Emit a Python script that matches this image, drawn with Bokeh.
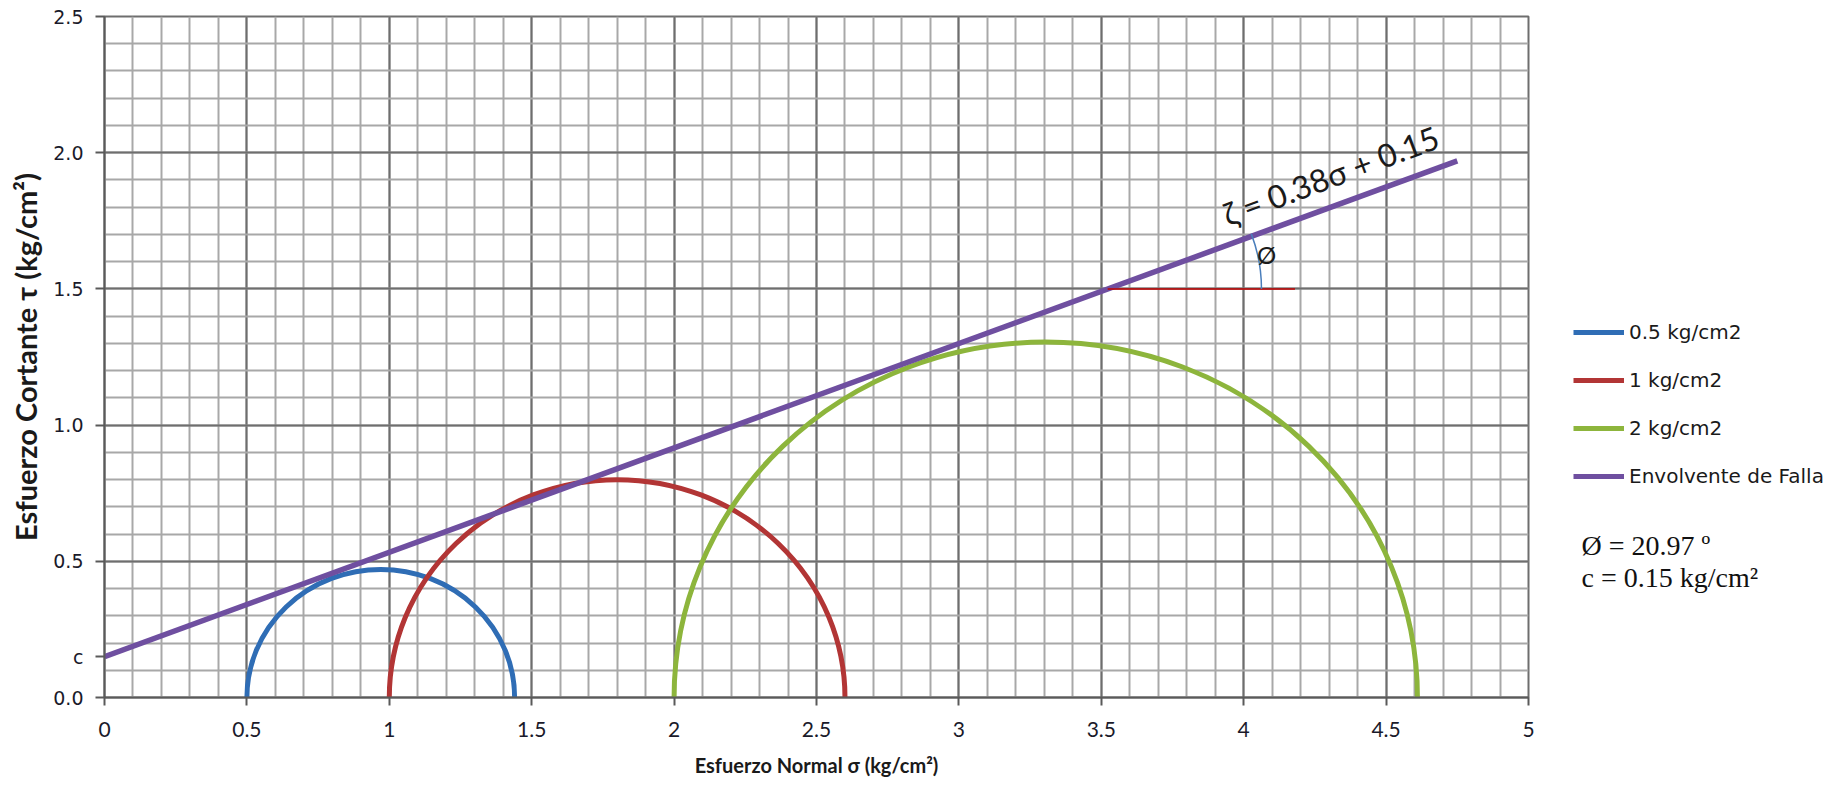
import numpy as np
from bokeh.plotting import figure
from bokeh.layouts import row
from bokeh.models import (Range1d, SingleIntervalTicker, Label, Legend, LegendItem,
                          ColumnDataSource)
from bokeh.embed import file_html
from bokeh.resources import INLINE

# ---------------- data ----------------
series_labels = ["0.5 kg/cm2", "1 kg/cm2", "2 kg/cm2"]
sigma3 = [0.50, 1.00, 2.00]          # minor principal stress (kg/cm2)
sigma1 = [1.44, 2.60, 4.61]          # major principal stress (kg/cm2)
series_colors = ["#2f6db5", "#b23535", "#8db53c"]

env_label = "Envolvente de Falla"
env_sigma = [0.0, 4.75]
env_tau = [0.15, 1.97]
env_color = "#6f4fa0"

phi_deg = 20.97
cohesion = 0.15
ref_tau = 1.5          # horizontal reference for the angle
ref_end = 4.18         # end of the horizontal reference line

x_ticks = [0, 0.5, 1, 1.5, 2, 2.5, 3, 3.5, 4, 4.5, 5]
x_tick_labels = ["0", "0.5", "1", "1.5", "2", "2.5", "3", "3.5", "4", "4.5", "5"]
y_ticks = [0, 0.15, 0.5, 1.0, 1.5, 2.0, 2.5]
y_tick_labels = ["0.0", "c", "0.5", "1.0", "1.5", "2.0", "2.5"]

# ---------------- main figure ----------------
p = figure(width=1545, height=787, output_backend="svg", toolbar_location=None,
           x_range=Range1d(0, 5), y_range=Range1d(0, 2.5),
           min_border_left=104, min_border_right=17, min_border_top=16,
           min_border_bottom=90)
p.outline_line_color = "#6e6e6e"
p.outline_line_width = 2
p.background_fill_color = "white"
p.border_fill_color = "white"

for g in (p.xgrid[0], p.ygrid[0]):
    g.ticker = SingleIntervalTicker(interval=0.5, num_minor_ticks=5)
    g.grid_line_color = "#6e6e6e"
    g.grid_line_width = 2
    g.minor_grid_line_color = "#a8a8a8"
    g.minor_grid_line_width = 2

p.xaxis.ticker = x_ticks
p.xaxis.major_label_overrides = {t: l for t, l in zip(x_ticks, x_tick_labels)}
p.yaxis.ticker = y_ticks
p.yaxis.major_label_overrides = {t: l for t, l in zip(y_ticks, y_tick_labels)}

for ax in (p.xaxis[0], p.yaxis[0]):
    ax.axis_line_color = "#5a5a5a"
    ax.axis_line_width = 2
    ax.major_tick_line_color = "#5a5a5a"
    ax.major_tick_line_width = 2
    ax.major_tick_in = 0
    ax.minor_tick_in = 0
    ax.minor_tick_out = 0
    ax.major_label_text_color = "#1a1a2a"
    ax.axis_label_text_color = "#1a1a1a"
    ax.axis_label_text_font_style = "bold"

p.xaxis.major_tick_out = 8
p.xaxis.major_label_standoff = 16
p.xaxis.major_label_text_font = "Lato"
p.xaxis.major_label_text_font_size = "21px"
p.xaxis.axis_label = "Esfuerzo Normal σ (kg/cm²)"
p.xaxis.axis_label_text_font = "Lato"
p.xaxis.axis_label_text_font_size = "20px"
p.xaxis.axis_label_standoff = 13

p.yaxis.major_tick_out = 9
p.yaxis.major_label_standoff = 12
p.yaxis.major_label_text_font = "DejaVu Sans"
p.yaxis.major_label_text_font_size = "19px"
p.yaxis.axis_label = "Esfuerzo Cortante τ (kg/cm²)"
p.yaxis.axis_label_text_font = "Lato"
p.yaxis.axis_label_text_font_size = "29px"
p.yaxis.axis_label_standoff = 7

# ---------------- Mohr circles ----------------
centers = [(a + b) / 2 for a, b in zip(sigma3, sigma1)]
diam = [(b - a) for a, b in zip(sigma3, sigma1)]
circ_src = ColumnDataSource(dict(x=centers, y=[0.0] * 3, w=diam, h=diam, color=series_colors))
p.ellipse(x="x", y="y", width="w", height="h", source=circ_src,
          fill_color=None, line_color="color", line_width=5)

# envelope
p.line(env_sigma, env_tau, line_color=env_color, line_width=5.5)

# angle construction
tan_phi = np.tan(np.radians(phi_deg))
sig_int = (ref_tau - cohesion) / tan_phi
p.line([sig_int, ref_end], [ref_tau, ref_tau], line_color="#c00000", line_width=1.5)
p.arc(x=[sig_int], y=[ref_tau], radius=0.54, start_angle=0, end_angle=phi_deg,
      start_angle_units="deg", end_angle_units="deg", line_color="#4a7ebb", line_width=1.5)

p.add_layout(Label(x=4.08, y=1.625, text="Ø", text_font="Lato", text_font_size="24px",
                   text_color="#1a1a1a", text_align="center", text_baseline="middle"))
p.add_layout(Label(x=3.93, y=1.77, text="ζ = 0.38σ + 0.15", text_font="Lato",
                   text_font_size="32px", text_color="#1a1a1a", angle=20.5,
                   angle_units="deg", text_align="left", text_baseline="alphabetic"))

# ---------------- side panel (legend + summary) ----------------
# ranges far from the data so the legend proxies themselves stay out of view
p2 = figure(width=302, height=787, output_backend="svg", toolbar_location=None,
            x_range=Range1d(100, 101), y_range=Range1d(100, 101),
            x_axis_location=None, y_axis_location=None,
            min_border=0, min_border_left=0, min_border_right=0,
            min_border_top=0, min_border_bottom=0)
p2.outline_line_color = None
p2.xgrid.visible = False
p2.ygrid.visible = False
p2.background_fill_color = "white"
p2.border_fill_color = "white"

items = []
for i, (lab, col) in enumerate(zip(series_labels, series_colors)):
    r = p2.line([sigma3[i], sigma1[i]], [0, 0], line_color=col, line_width=5)
    items.append(LegendItem(label=lab, renderers=[r]))
r_env = p2.line(env_sigma, env_tau, line_color=env_color, line_width=5)
items.append(LegendItem(label=env_label, renderers=[r_env]))

legend = Legend(items=items, location=(28, 209), orientation="vertical",
                glyph_width=51, glyph_height=24, label_height=24, spacing=24,
                label_standoff=5, padding=0, margin=0,
                border_line_color=None, background_fill_alpha=0,
                label_text_font="DejaVu Sans", label_text_font_size="20px",
                label_text_color="#1a1a1a")
p2.add_layout(legend, "center")

p2.add_layout(Label(x=36, y=152, x_units="screen", y_units="screen",
                    text=f"Ø = {phi_deg:.2f} º", text_font="Liberation Serif",
                    text_font_size="28px", text_color="#111111", text_baseline="middle"))
p2.add_layout(Label(x=36, y=120, x_units="screen", y_units="screen",
                    text=f"c = {cohesion:.2f} kg/cm²", text_font="Liberation Serif",
                    text_font_size="28px", text_color="#111111", text_baseline="middle"))

layout = row(p, p2)
open("out.html", "w").write(file_html(layout, INLINE))
